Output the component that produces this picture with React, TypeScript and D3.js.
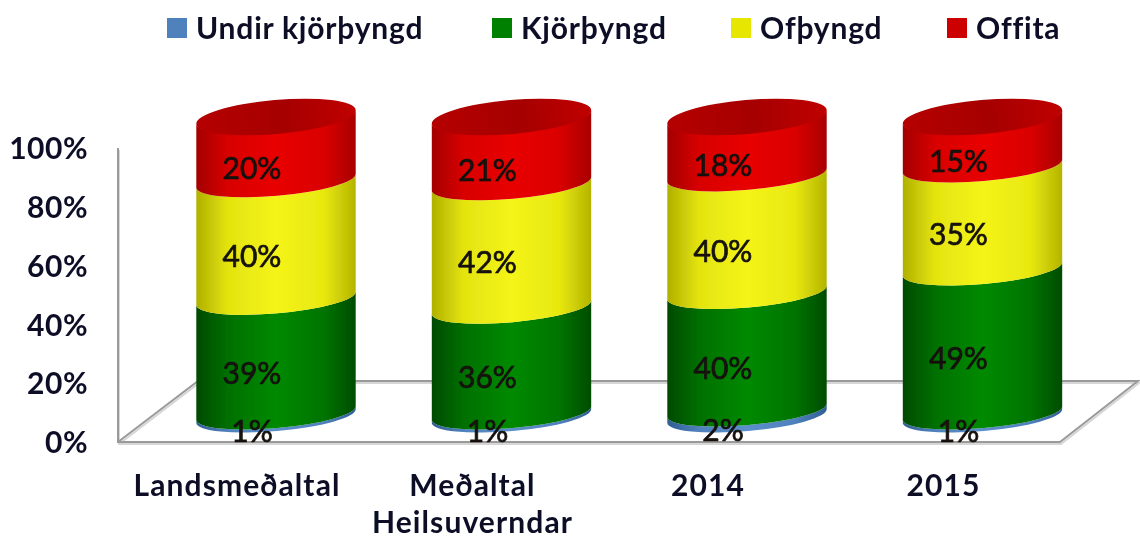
import React, { useEffect, useRef } from 'react';
import * as d3 from 'd3';

const categories = ['Landsmeðaltal', 'Meðaltal Heilsuverndar', '2014', '2015'];
const categoryLines = [['Landsmeðaltal'], ['Meðaltal', 'Heilsuverndar'], ['2014'], ['2015']];
const seriesNames = ['Undir kjörþyngd', 'Kjörþyngd', 'Ofþyngd', 'Offita'];
const undir = [1, 1, 2, 1];
const kjor = [39, 36, 40, 49];
const of = [40, 42, 40, 35];
const offita = [20, 21, 18, 15];
const axisTicks = [0, 20, 40, 60, 80, 100];

const seriesColors = ['#4f81bd', '#008000', '#e6e600', '#cc0000'];
const gradientStops = [
  ['#2f5f94', '#4f81bd', '#5b8fcb', '#4f81bd', '#2f5f94'],
  ['#004a00', '#007000', '#008a00', '#007400', '#004c00'],
  ['#b0b000', '#e4e410', '#f4f41a', '#e8e810', '#b4b400'],
  ['#a30000', '#d80000', '#e80000', '#da0000', '#a80000'],
];
const legendX = [167, 492, 731, 947];
const textColor = '#0c1028';

function App() {
  const svgRef = useRef<SVGSVGElement>(null);
  const width = 1140;
  const height = 541;

  useEffect(() => {
    const svg = d3.select(svgRef.current);
    svg.selectAll('*').remove();

    const font = 'Lato, "Open Sans", sans-serif';
    const rx = 80;
    const ry = 15;
    const tilt = -5;
    const dx = rx * Math.cos((tilt * Math.PI) / 180);
    const dy = rx * Math.sin((tilt * Math.PI) / 180);

    const rows = categories.map((c, i) => ({
      category: c,
      [seriesNames[0]]: undir[i],
      [seriesNames[1]]: kjor[i],
      [seriesNames[2]]: of[i],
      [seriesNames[3]]: offita[i],
    }));
    const stacked = d3.stack<any>().keys(seriesNames)(rows);

    const x = d3.scalePoint<string>().domain(categories).range([276, 982.5]);
    const y = d3.scaleLinear().domain([0, 100]).range([416, 122]);
    const wallY = d3.scaleLinear().domain([0, 100]).range([442, 148]);

    const defs = svg.append('defs');
    defs
      .append('filter')
      .attr('id', 'soft')
      .append('feGaussianBlur')
      .attr('stdDeviation', 0.6);

    gradientStops.forEach((stops, i) => {
      const g = defs.append('linearGradient').attr('id', `side${i}`);
      [0, 0.2, 0.5, 0.8, 1].forEach((o, k) => {
        g.append('stop').attr('offset', o).attr('stop-color', stops[k]);
      });
    });
    const capGrad = defs.append('linearGradient').attr('id', 'cap');
    capGrad.append('stop').attr('offset', 0).attr('stop-color', '#b50000');
    capGrad.append('stop').attr('offset', 0.55).attr('stop-color', '#a60000');
    capGrad.append('stop').attr('offset', 1).attr('stop-color', '#c00000');

    const root = svg.append('g').attr('filter', 'url(#soft)');

    // wall and floor
    const floor = d3.line()([
      [118, wallY(100)],
      [118, wallY(0)],
      [1060, wallY(0)],
      [1138, 381],
      [198, 381],
      [118, wallY(0)],
    ]);
    root
      .append('path')
      .attr('d', floor)
      .attr('fill', 'none')
      .attr('stroke', '#d6d6d6')
      .attr('stroke-width', 2)
      .attr('transform', 'translate(1,2)');
    root
      .append('path')
      .attr('d', floor)
      .attr('fill', 'none')
      .attr('stroke', '#9a9a9a')
      .attr('stroke-width', 2);

    // y axis labels
    const axis = root
      .append('g')
      .attr('transform', 'translate(88,1)')
      .call(
        d3
          .axisLeft(wallY)
          .tickValues(axisTicks)
          .tickSize(0)
          .tickPadding(0)
          .tickFormat((d) => `${d}%`),
      );
    axis.select('.domain').remove();
    axis
      .selectAll('text')
      .attr('font-family', font)
      .attr('font-weight', 700)
      .attr('font-size', 30)
      .attr('letter-spacing', 0.5)
      .attr('fill', textColor);

    // cylinders
    const side = (cx: number, lower: number, upper: number) =>
      `M${cx - dx},${upper - dy}L${cx - dx},${lower - dy}` +
      `A${rx},${ry} ${tilt} 0 0 ${cx + dx},${lower + dy}` +
      `L${cx + dx},${upper + dy}` +
      `A${rx},${ry} ${tilt} 0 1 ${cx - dx},${upper - dy}Z`;

    categories.forEach((c, i) => {
      const cx = x(c) as number;
      const group = root.append('g');
      stacked.forEach((layer, s) => {
        const [v0, v1] = layer[i];
        group
          .append('path')
          .attr('d', side(cx, y(v0), s === stacked.length - 1 ? y(v1) - 5 : y(v1)))
          .attr('fill', `url(#side${s})`);
      });
      group
        .append('ellipse')
        .attr('cx', cx)
        .attr('cy', y(100) - 5)
        .attr('rx', rx)
        .attr('ry', 17)
        .attr('transform', `rotate(${tilt} ${cx} ${y(100) - 5})`)
        .attr('fill', 'url(#cap)');

      // labels inside the segments
      stacked.forEach((layer) => {
        const [v0, v1] = layer[i];
        group
          .append('text')
          .attr('x', cx - 24)
          .attr('y', y((v0 + v1) / 2) + 17)
          .attr('dy', '0.36em')
          .attr('text-anchor', 'middle')
          .attr('font-family', font)
          .attr('font-size', 30)
          .attr('font-weight', 400)
          .attr('stroke', '#15120c')
          .attr('stroke-width', 0.7)
          .attr('fill', '#15120c')
          .text(`${v1 - v0}%`);
      });

      // category label
      categoryLines[i].forEach((line, k) => {
        root
          .append('text')
          .attr('x', cx - 39)
          .attr('y', 496 + k * 37)
          .attr('text-anchor', 'middle')
          .attr('font-family', font)
          .attr('font-size', 30)
          .attr('font-weight', 700)
          .attr('letter-spacing', 1.1)
          .attr('fill', textColor)
          .text(line);
      });
    });

    // legend
    const legend = root.append('g');
    seriesNames.forEach((name, i) => {
      legend
        .append('rect')
        .attr('x', legendX[i])
        .attr('y', 18)
        .attr('width', 20)
        .attr('height', 20)
        .attr('fill', seriesColors[i]);
      legend
        .append('text')
        .attr('x', legendX[i] + 29)
        .attr('y', 39)
        .attr('font-family', font)
        .attr('font-size', 30)
        .attr('font-weight', 700)
        .attr('letter-spacing', 0.8)
        .attr('fill', textColor)
        .text(name);
    });
  }, []);

  return (
    <svg
      ref={svgRef}
      width={width}
      height={height}
      style={{ position: 'absolute', left: 0, top: 0, background: '#fff' }}
    ></svg>
  );
}

export default App;
